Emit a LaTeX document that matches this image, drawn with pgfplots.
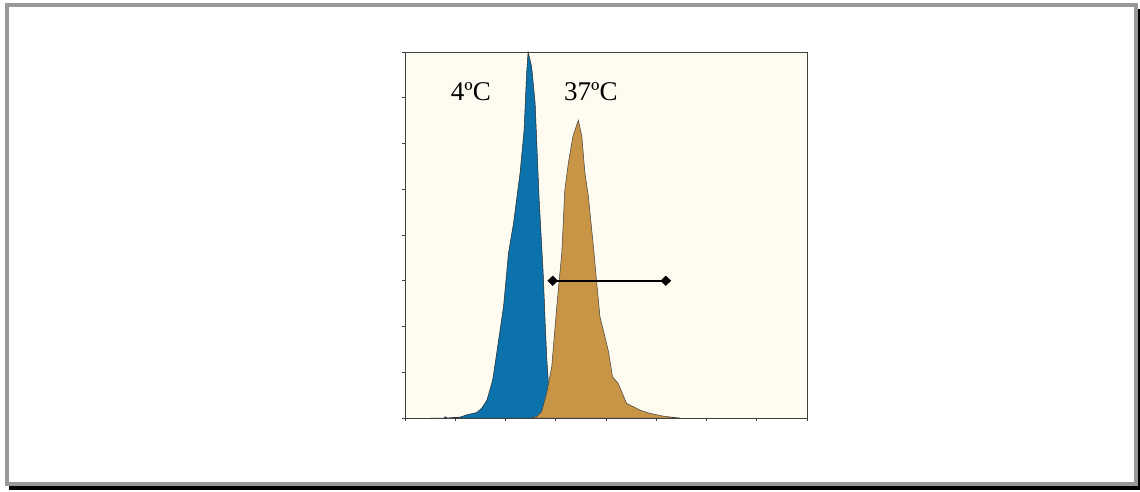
\documentclass[border=0pt]{standalone}
\usepackage{pgfplots}
\pgfplotsset{compat=1.18}
\usepackage{fontspec}
\setmainfont{Liberation Serif}
\definecolor{cream}{HTML}{FEFBF0}
\definecolor{cblue}{HTML}{0C72AB}
\definecolor{ctan}{HTML}{C89446}
\definecolor{framegrey}{HTML}{999999}
\definecolor{axgrey}{HTML}{404040}
\begin{document}
\begin{tikzpicture}[x=1pt,y=1pt]
\useasboundingbox (0,0) rectangle (1140,491);
\fill[black] (9,1) rectangle (1140,482);
\fill[white] (5,5.3) rectangle (1138.3,488.3);
\draw[framegrey,line width=4pt] (7,7.2) rectangle (1136.3,486.3);
\begin{axis}[
  at={(405pt,73pt)}, anchor=south west,
  width=402pt, height=366pt, scale only axis,
  xmin=0, xmax=8, ymin=0, ymax=8,
  xtick={0,...,8}, ytick={0,...,8},
  xticklabels={}, yticklabels={},
  tick pos=left, tick align=outside,
  major tick length=3pt,
  axis line style={draw=axgrey, line width=0.9pt},
  every tick/.style={draw=axgrey, line width=0.6pt},
  axis background/.style={fill=cream},
  axis on top,
  clip=false,
]
\addplot[fill=cblue, draw=black!85, line width=0.5pt] coordinates {
(0.50,0) (0.78,0) (0.80,0.03) (0.83,0) (1.10,0.02) (1.23,0.07) (1.43,0.12) (1.53,0.22) (1.63,0.39)
(1.73,0.77) (1.75,0.87) (1.79,1.16) (1.84,1.53) (1.96,2.43) (2.06,3.61)
(2.16,4.26) (2.22,4.77) (2.29,5.36) (2.37,6.30) (2.42,7.54) (2.45,8.0)
(2.52,7.68) (2.59,6.88) (2.62,6.08) (2.67,4.77) (2.75,3.17) (2.79,2.08)
(2.82,1.33) (2.85,0.83) (2.89,0.50) (2.95,0.17) (3.04,0)
} -- cycle;
\addplot[fill=ctan, draw=black!75, line width=0.5pt] coordinates {
(2.49,0) (2.62,0.03) (2.72,0.14) (2.82,0.55) (2.92,1.12) (3.02,2.43)
(3.12,3.61) (3.18,4.98) (3.25,5.57) (3.34,6.15) (3.45,6.51) (3.52,6.15)
(3.58,5.36) (3.65,4.84) (3.75,3.74) (3.81,3.02) (3.88,2.21) (3.96,1.86)
(4.05,1.45) (4.13,0.90) (4.24,0.76) (4.41,0.32) (4.48,0.28) (4.54,0.25)
(4.68,0.17) (4.88,0.10) (5.14,0.04) (5.34,0.015) (5.47,0)
} -- cycle;
\addplot[black, line width=2pt, mark=diamond*, mark size=4.7pt,
  mark options={xscale=1.4, solid, line width=0.5pt}] coordinates {(2.94,3) (5.19,3)};
\node[font=\fontsize{27}{30}\selectfont] at (axis cs:1.31,7.13) {4ºC};
\node[font=\fontsize{27}{30}\selectfont] at (axis cs:3.70,7.13) {37ºC};
\end{axis}
\end{tikzpicture}
\end{document}
